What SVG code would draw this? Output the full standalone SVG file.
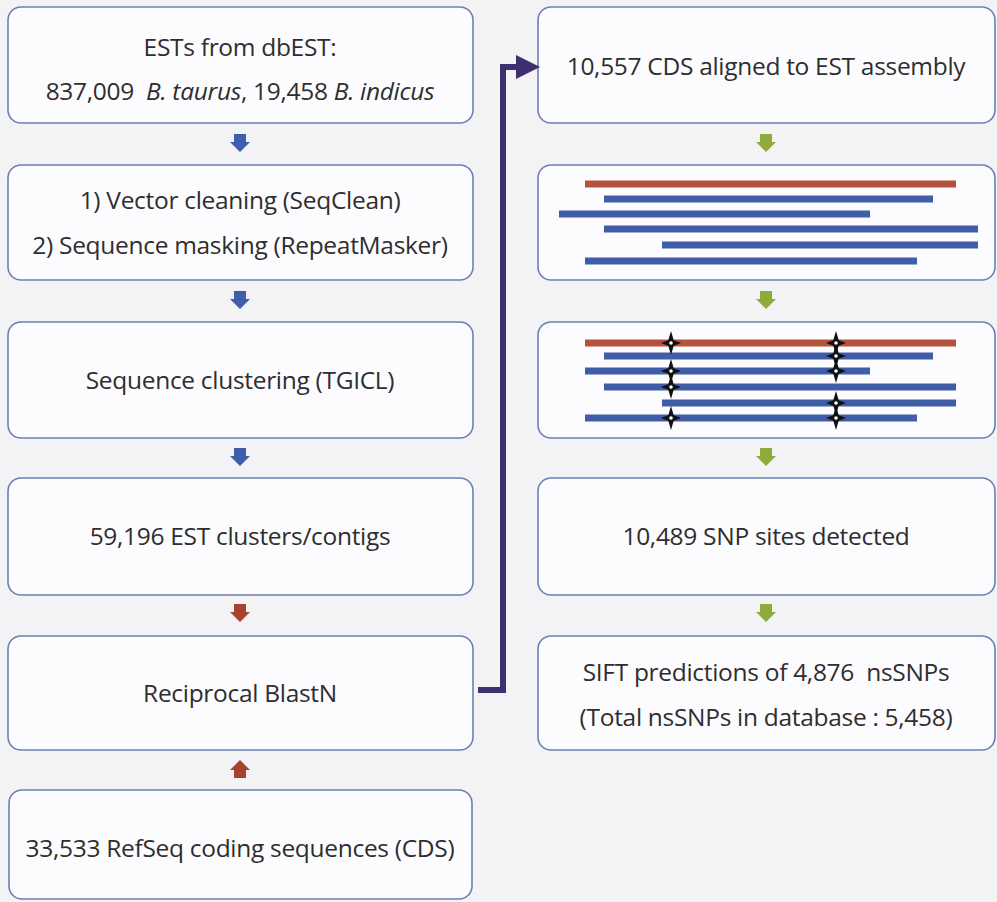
<svg xmlns="http://www.w3.org/2000/svg" width="997" height="902" viewBox="0 0 997 902">
  <style>
    .box { fill: #fcfcfe; stroke: #6d7fb3; stroke-width: 1.6; }
    .t { font-family: "Open Sans", "Liberation Sans", sans-serif; font-size: 24.5px; fill: #2e2e2e; text-anchor: middle; letter-spacing: -0.3px; }
    .i { font-style: italic; }
    .ref { stroke: #b5523c; stroke-width: 7; }
    .est { stroke: #3f5ea6; stroke-width: 7; }
    .blue { fill: #3f5eaa; }
    .red { fill: #a8432f; }
    .green { fill: #8fab3e; }
    .link { fill: none; stroke: #3e2f6e; stroke-width: 6; }
  </style>
  <defs>
    <!-- small block arrow pointing down, centred on origin -->
    <path id="down" d="M-6,-9 H6 V-1 H10 L0,9 L-10,-1 H-6 Z"/>
    <path id="up" d="M-6,9 H6 V1 H10 L0,-9 L-10,1 H-6 Z"/>
    <!-- four-pointed SNP marker -->
    <g id="snp">
      <path d="M0,-12 L2.7,-2.7 L10,0 L2.7,2.7 L0,12 L-2.7,2.7 L-10,0 L-2.7,-2.7 Z" fill="#111"/>
      <circle r="1.8" fill="#fff"/>
    </g>
    <marker id="head" markerWidth="4" markerHeight="4" refX="1" refY="2" orient="auto" markerUnits="strokeWidth">
      <path d="M0,0 L4,2 L0,4 Z" fill="#3e2f6e"/>
    </marker>
  </defs>

  <rect width="997" height="902" fill="#f3f3f6"/>

  <!-- left column -->
  <g id="dbest">
    <rect class="box" x="8" y="7" width="465" height="116" rx="13"/>
    <text class="t" x="240" y="56">ESTs from dbEST:</text>
    <text class="t" x="240" y="100" xml:space="preserve">837,009  <tspan class="i">B. taurus</tspan>, 19,458 <tspan class="i">B. indicus</tspan></text>
  </g>
  <g id="cleaning">
    <rect class="box" x="8" y="165" width="465" height="115" rx="13"/>
    <text class="t" x="240" y="209">1) Vector cleaning (SeqClean)</text>
    <text class="t" x="240" y="254">2) Sequence masking (RepeatMasker)</text>
  </g>
  <g id="clustering">
    <rect class="box" x="8" y="322" width="465" height="116" rx="13"/>
    <text class="t" x="240" y="389">Sequence clustering (TGICL)</text>
  </g>
  <g id="contigs">
    <rect class="box" x="8" y="478" width="465" height="117" rx="13"/>
    <text class="t" x="240" y="545">59,196 EST clusters/contigs</text>
  </g>
  <g id="blastn">
    <rect class="box" x="8" y="636" width="465" height="114" rx="13"/>
    <text class="t" x="240" y="702">Reciprocal BlastN</text>
  </g>
  <g id="refseq">
    <rect class="box" x="9" y="790" width="463" height="109" rx="13"/>
    <text class="t" x="240" y="857">33,533 RefSeq coding sequences (CDS)</text>
  </g>

  <!-- right column -->
  <g id="aligned">
    <rect class="box" x="538" y="7" width="457" height="116" rx="13"/>
    <text class="t" x="766" y="75">10,557 CDS aligned to EST assembly</text>
  </g>
  <g id="alignment">
    <rect class="box" x="538" y="165" width="457" height="115" rx="13"/>
    <line class="ref" x1="585" y1="184" x2="956" y2="184"/>
    <line class="est" x1="604" y1="199" x2="933" y2="199"/>
    <line class="est" x1="559" y1="214" x2="870" y2="214"/>
    <line class="est" x1="604" y1="229" x2="978" y2="229"/>
    <line class="est" x1="662" y1="245" x2="978" y2="245"/>
    <line class="est" x1="585" y1="261" x2="917" y2="261"/>
  </g>
  <g id="snp-calling">
    <rect class="box" x="538" y="322" width="457" height="116" rx="13"/>
    <line class="ref" x1="585" y1="343" x2="956" y2="343"/>
    <line class="est" x1="604" y1="356" x2="933" y2="356"/>
    <line class="est" x1="585" y1="371" x2="870" y2="371"/>
    <line class="est" x1="604" y1="387" x2="956" y2="387"/>
    <line class="est" x1="662" y1="403" x2="956" y2="403"/>
    <line class="est" x1="585" y1="418" x2="917" y2="418"/>
    <use href="#snp" x="671" y="343"/>
    <use href="#snp" x="671" y="371"/>
    <use href="#snp" x="671" y="387"/>
    <use href="#snp" x="671" y="418"/>
    <use href="#snp" x="836" y="343"/>
    <use href="#snp" x="836" y="356"/>
    <use href="#snp" x="836" y="371"/>
    <use href="#snp" x="836" y="403"/>
    <use href="#snp" x="836" y="418"/>
  </g>
  <g id="snp-sites">
    <rect class="box" x="538" y="478" width="457" height="117" rx="13"/>
    <text class="t" x="766" y="545">10,489 SNP sites detected</text>
  </g>
  <g id="sift">
    <rect class="box" x="538" y="636" width="457" height="114" rx="13"/>
    <text class="t" x="766" y="681" xml:space="preserve">SIFT predictions of 4,876  nsSNPs</text>
    <text class="t" x="766" y="726">(Total nsSNPs in database : 5,458)</text>
  </g>

  <!-- connectors -->
  <g id="connectors">
    <use href="#down" class="blue" x="240" y="143"/>
    <use href="#down" class="blue" x="240" y="300"/>
    <use href="#down" class="blue" x="240" y="457"/>
    <use href="#down" class="red" x="240" y="613"/>
    <use href="#up" class="red" x="240" y="769"/>
    <use href="#down" class="green" x="766" y="143"/>
    <use href="#down" class="green" x="766" y="300"/>
    <use href="#down" class="green" x="766" y="457"/>
    <use href="#down" class="green" x="766" y="613"/>
    <path class="link" d="M478,690 H503 V67 H522" marker-end="url(#head)"/>
  </g>
</svg>
